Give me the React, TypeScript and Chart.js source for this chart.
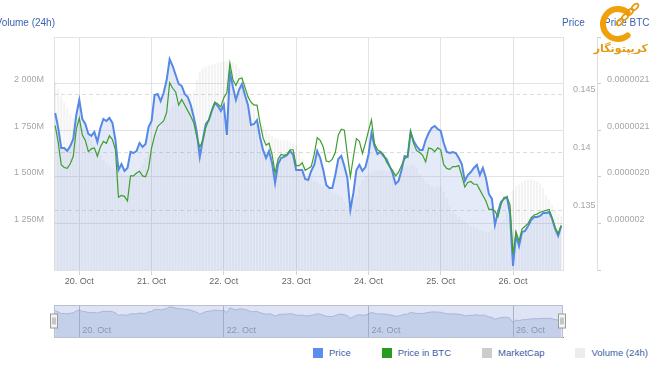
import React, { useEffect, useRef } from 'react';
import { Chart, registerables } from 'chart.js';

Chart.register(...registerables);

const FONT = '"Liberation Sans", Arial, Helvetica, sans-serif';

// hours counted from 19 Oct 00:00; first hourly point is 19 Oct 16:00
const startHour = 16;
const xMin = 15.6;
const xMax = 184.6;

const price = [
  0.14345, 0.14216, 0.14043, 0.14043, 0.14017, 0.1406, 0.14121, 0.14328, 0.14457, 0.14293,
  0.1425, 0.14164, 0.14147, 0.14181, 0.14095, 0.14216, 0.14293, 0.14276, 0.14302, 0.14259,
  0.14112, 0.13853, 0.13905, 0.13845, 0.13871, 0.14009, 0.14, 0.14017, 0.14086, 0.14052,
  0.14078, 0.14224, 0.14276, 0.145, 0.14509, 0.14448, 0.14517, 0.14629, 0.1481, 0.1475,
  0.14672, 0.14595, 0.14578, 0.14509, 0.14483, 0.14414, 0.1431, 0.14181, 0.13966, 0.14112,
  0.1425, 0.14284, 0.14362, 0.14431, 0.14405, 0.14362, 0.14414, 0.14155, 0.14698, 0.14569,
  0.14457, 0.14543, 0.14595, 0.145, 0.14414, 0.14241, 0.1425, 0.14284, 0.14138, 0.14026,
  0.13957, 0.14017, 0.13914, 0.13741, 0.13905, 0.13957, 0.13966, 0.13983, 0.14017, 0.13983,
  0.13853, 0.13853, 0.13853, 0.13776, 0.13767, 0.13845, 0.13897, 0.14017, 0.13957, 0.13853,
  0.13724, 0.13698, 0.13698, 0.1381, 0.13948, 0.13974, 0.13888, 0.13785, 0.13509, 0.13655,
  0.13853, 0.13897, 0.13845, 0.13879, 0.13983, 0.14172, 0.1406, 0.13991, 0.14009, 0.13974,
  0.13948, 0.13888, 0.13828, 0.13733, 0.13759, 0.13853, 0.13974, 0.13966, 0.14181, 0.14103,
  0.1406, 0.14026, 0.14026, 0.14112, 0.14172, 0.14216, 0.14233, 0.14207, 0.1419, 0.14086,
  0.14009, 0.14, 0.14009, 0.14, 0.13957, 0.13905, 0.13759, 0.1381, 0.13836, 0.13871,
  0.13897, 0.1381, 0.13871, 0.13785, 0.13647, 0.13604, 0.13379, 0.13491, 0.13578, 0.13604,
  0.13621, 0.13474, 0.13026, 0.13293, 0.13198, 0.13319, 0.13328, 0.13371, 0.13422, 0.13448,
  0.13448, 0.13457, 0.13483, 0.13483, 0.13491, 0.13431, 0.13345, 0.13285, 0.13371,
];

// price in BTC, in millionths of a BTC
const priceBtcMicro = [
  2.105, 2.087, 2.063, 2.06, 2.059, 2.064, 2.072, 2.101, 2.113, 2.095,
  2.089, 2.077, 2.08, 2.081, 2.072, 2.082, 2.088, 2.086, 2.094, 2.09,
  2.079, 2.028, 2.03, 2.029, 2.024, 2.051, 2.051, 2.054, 2.056, 2.051,
  2.05, 2.059, 2.081, 2.094, 2.104, 2.107, 2.11, 2.119, 2.151, 2.145,
  2.141, 2.127, 2.133, 2.127, 2.121, 2.115, 2.108, 2.093, 2.082, 2.089,
  2.103, 2.111, 2.122, 2.13, 2.128, 2.125, 2.135, 2.14, 2.172, 2.154,
  2.148, 2.155, 2.156, 2.146, 2.136, 2.13, 2.127, 2.127, 2.108, 2.092,
  2.084, 2.086, 2.074, 2.054, 2.069, 2.074, 2.073, 2.074, 2.079, 2.079,
  2.062, 2.062, 2.065, 2.057, 2.059, 2.061, 2.074, 2.092, 2.089, 2.082,
  2.067, 2.066, 2.069, 2.076, 2.095, 2.101, 2.1, 2.074, 2.05, 2.071,
  2.091, 2.088, 2.075, 2.086, 2.099, 2.111, 2.086, 2.079, 2.077, 2.074,
  2.066, 2.061, 2.057, 2.051, 2.055, 2.062, 2.069, 2.072, 2.099, 2.086,
  2.078, 2.076, 2.073, 2.066, 2.081, 2.08, 2.077, 2.081, 2.079, 2.063,
  2.059, 2.058, 2.061, 2.061, 2.062, 2.051, 2.039, 2.044, 2.045, 2.042,
  2.042, 2.036, 2.03, 2.024, 2.015, 2.015, 2.013, 2.007, 2.02, 2.028,
  2.028, 2.02, 1.967, 1.991, 1.981, 1.994, 1.997, 2.0, 2.006, 2.009,
  2.01, 2.012, 2.013, 2.014, 2.015, 2.006, 1.996, 1.989, 1.998,
];

// market cap, billions of USD
const marketCapB = [
  21.02, 20.83, 20.57, 20.57, 20.53, 20.6, 20.69, 20.99, 21.18, 20.94,
  20.88, 20.75, 20.73, 20.78, 20.65, 20.83, 20.94, 20.91, 20.95, 20.89,
  20.67, 20.29, 20.37, 20.28, 20.32, 20.52, 20.51, 20.53, 20.64, 20.59,
  20.62, 20.84, 20.91, 21.24, 21.26, 21.17, 21.27, 21.43, 21.7, 21.61,
  21.49, 21.38, 21.36, 21.26, 21.22, 21.12, 20.96, 20.78, 20.46, 20.67,
  20.88, 20.93, 21.04, 21.14, 21.1, 21.04, 21.12, 20.74, 21.53, 21.34,
  21.18, 21.31, 21.38, 21.24, 21.12, 20.86, 20.88, 20.93, 20.71, 20.55,
  20.45, 20.53, 20.38, 20.13, 20.37, 20.45, 20.46, 20.49, 20.53, 20.49,
  20.29, 20.29, 20.29, 20.18, 20.17, 20.28, 20.36, 20.53, 20.45, 20.29,
  20.11, 20.07, 20.07, 20.23, 20.43, 20.47, 20.35, 20.2, 19.79, 20.0,
  20.29, 20.36, 20.28, 20.33, 20.49, 20.76, 20.6, 20.5, 20.52, 20.47,
  20.43, 20.35, 20.26, 20.12, 20.16, 20.29, 20.47, 20.46, 20.78, 20.66,
  20.6, 20.55, 20.55, 20.67, 20.76, 20.83, 20.85, 20.81, 20.79, 20.64,
  20.52, 20.51, 20.52, 20.51, 20.45, 20.37, 20.16, 20.23, 20.27, 20.32,
  20.36, 20.23, 20.32, 20.2, 19.99, 19.93, 19.6, 19.76, 19.89, 19.93,
  19.95, 19.74, 19.08, 19.47, 19.34, 19.51, 19.53, 19.59, 19.66, 19.7,
  19.7, 19.71, 19.75, 19.75, 19.76, 19.68, 19.55, 19.46, 19.59,
];

// 24h volume, millions of USD
const volumeM = [
  2006, 1974, 1931, 1899, 1867, 1835, 1814, 1798, 1782, 1760,
  1739, 1717, 1696, 1669, 1642, 1616, 1589, 1573, 1557, 1546,
  1535, 1525, 1519, 1514, 1509, 1509, 1514, 1525, 1546, 1573,
  1600, 1632, 1664, 1696, 1728, 1760, 1792, 1824, 1856, 1878,
  1894, 1905, 1910, 1915, 1926, 1942, 1964, 2017, 2060, 2081,
  2092, 2097, 2103, 2108, 2113, 2113, 2119, 2119, 2113, 2113,
  2103, 2081, 2044, 2006, 1964, 1910, 1867, 1830, 1803, 1776,
  1749, 1728, 1717, 1707, 1701, 1696, 1696, 1696, 1690, 1680,
  1664, 1642, 1600, 1557, 1525, 1498, 1482, 1471, 1460, 1450,
  1439, 1434, 1423, 1412, 1401, 1391, 1364, 1343, 1343, 1364,
  1396, 1450, 1482, 1503, 1514, 1525, 1530, 1535, 1535, 1535,
  1530, 1530, 1535, 1541, 1546, 1546, 1551, 1557, 1562, 1562,
  1546, 1514, 1493, 1476, 1460, 1450, 1444, 1450, 1450, 1418,
  1385, 1348, 1321, 1300, 1284, 1268, 1257, 1246, 1235, 1230,
  1225, 1214, 1209, 1203, 1203, 1214, 1235, 1252, 1257, 1268,
  1310, 1375, 1428, 1450, 1460, 1471, 1482, 1487, 1487, 1482,
  1476, 1466, 1439, 1401, 1375, 1348, 1321, 1300, 1289,
];

const dayTickHours = [24, 48, 72, 96, 120, 144, 168];
const dayTickLabels = ['20. Oct', '21. Oct', '22. Oct', '23. Oct', '24. Oct', '25. Oct', '26. Oct'];
const navTickHours = [24, 72, 120, 168];
const navTickLabels = ['20. Oct', '22. Oct', '24. Oct', '26. Oct'];
const volumeTickValues = [1000, 1250, 1500, 1750, 2000, 2250];
const volumeTickLabels = ['', '1 250M', '1 500M', '1 750M', '2 000M', ''];
const priceTickValues = [0.135, 0.14, 0.145];
const priceTickLabels = ['0.135', '0.14', '0.145'];
const btcTickValues = [1.95, 2.0, 2.05, 2.1, 2.15, 2.2];
const btcTickLabels = ['', '0.000002', '0.00000205', '0.0000021', '0.00000215', ''];
const legendNames = ['Price', 'Price in BTC', 'MarketCap', 'Volume (24h)'];
const legendColors = ['#5b8def', '#2b9b1f', '#cccccc', '#ececec'];

function toPoints(values: number[]) {
  return values.map((v, i) => ({ x: startHour + i, y: v }));
}

function lookup(values: number[], labels: string[], v: number) {
  const k = values.findIndex((t) => Math.abs(t - v) < 1e-7);
  return k >= 0 ? labels[k] : '';
}

const tickFont = { family: FONT, size: 9 };

const navPlugin = {
  id: 'navDecor',
  beforeDraw(chart: any) {
    const { ctx, chartArea: a } = chart;
    ctx.save();
    ctx.fillStyle = 'rgba(200,210,236,0.6)';
    ctx.fillRect(a.left, a.top, a.right - a.left, a.bottom - a.top);
    ctx.restore();
  },
  afterDraw(chart: any) {
    const { ctx, chartArea: a, scales } = chart;
    ctx.save();
    ctx.strokeStyle = '#b9c0d2';
    ctx.lineWidth = 1;
    ctx.strokeRect(a.left + 0.5, a.top + 0.5, a.right - a.left - 1, a.bottom - a.top);
    ctx.fillStyle = '#8e95a8';
    ctx.font = `9px ${FONT}`;
    ctx.textBaseline = 'middle';
    ctx.textAlign = 'left';
    navTickHours.forEach((h, k) => {
      const px = scales.x.getPixelForValue(h);
      ctx.fillText(navTickLabels[k], px + 3, a.bottom - 6);
    });
    const mid = (a.top + a.bottom) / 2;
    [a.left, a.right - 1].forEach((x) => {
      ctx.fillStyle = '#f4f4f4';
      ctx.strokeStyle = '#999';
      ctx.fillRect(x - 3.5, mid - 7, 7, 14);
      ctx.strokeRect(x - 3.5, mid - 7, 7, 14);
      ctx.beginPath();
      ctx.moveTo(x - 1, mid - 3.5);
      ctx.lineTo(x - 1, mid + 3.5);
      ctx.moveTo(x + 1, mid - 3.5);
      ctx.lineTo(x + 1, mid + 3.5);
      ctx.stroke();
    });
    ctx.restore();
  },
};

export default function App() {
  const mainRef = useRef<HTMLCanvasElement>(null);
  const navRef = useRef<HTMLCanvasElement>(null);

  useEffect(() => {
    const main = new Chart(mainRef.current as HTMLCanvasElement, {
      type: 'line',
      data: {
        datasets: [
          {
            type: 'line',
            label: legendNames[0],
            data: toPoints(price),
            yAxisID: 'yPrice',
            borderColor: '#5688e6',
            borderWidth: 2,
            pointRadius: 0,
            fill: false,
            order: 1,
          },
          {
            type: 'line',
            label: legendNames[1],
            data: toPoints(priceBtcMicro),
            yAxisID: 'yBtc',
            borderColor: '#3e9e30',
            borderWidth: 1.2,
            pointRadius: 0,
            fill: false,
            order: 0,
          },
          {
            type: 'line',
            label: legendNames[2],
            data: toPoints(marketCapB),
            yAxisID: 'yMc',
            borderColor: 'rgba(0,0,0,0)',
            borderWidth: 0,
            backgroundColor: 'rgba(150,172,228,0.26)',
            pointRadius: 0,
            fill: 'start',
            order: 2,
          },
          {
            type: 'bar',
            label: legendNames[3],
            data: toPoints(volumeM),
            yAxisID: 'yVol',
            backgroundColor: 'rgba(120,120,120,0.085)',
            barPercentage: 0.7,
            categoryPercentage: 1,
            order: 3,
          },
        ] as any,
      },
      options: {
        animation: false,
        responsive: false,
        maintainAspectRatio: false,
        events: [],
        layout: { padding: { top: 37, left: 0, right: 0, bottom: 0 } },
        plugins: { legend: { display: false }, tooltip: { enabled: false } },
        scales: {
          x: {
            type: 'linear',
            position: 'bottom',
            min: xMin,
            max: xMax,
            offset: false,
            afterBuildTicks: (s: any) => {
              s.ticks = dayTickHours.map((v) => ({ value: v }));
            },
            ticks: {
              autoSkip: false,
              maxRotation: 0,
              padding: 1,
              color: '#666',
              font: tickFont,
              callback: (v: any) => lookup(dayTickHours, dayTickLabels, Number(v)),
            },
            grid: {
              offset: false,
              color: '#e3e3e3',
              drawTicks: true,
              tickLength: 5,
              tickColor: '#d4d4d4',
            },
            border: { display: false },
            afterFit: (s: any) => {
              s.height = 22;
            },
          },
          yVol: {
            type: 'linear',
            position: 'left',
            min: 1000,
            max: 2250,
            afterBuildTicks: (s: any) => {
              s.ticks = volumeTickValues.map((v) => ({ value: v }));
            },
            ticks: {
              color: '#a6a6a6',
              font: tickFont,
              padding: 10,
              labelOffset: -4,
              callback: (v: any) => lookup(volumeTickValues, volumeTickLabels, Number(v)),
            },
            grid: { color: '#e3e3e3', drawTicks: false },
            border: { display: true, color: '#e3e3e3' },
            afterFit: (s: any) => {
              s.width = 54;
            },
          },
          yPrice: {
            type: 'linear',
            position: 'right',
            weight: 0,
            min: 0.12991,
            max: 0.15,
            afterBuildTicks: (s: any) => {
              s.ticks = priceTickValues.map((v) => ({ value: v }));
            },
            ticks: {
              color: '#a6a6a6',
              font: tickFont,
              padding: 10,
              labelOffset: -5,
              callback: (v: any) => lookup(priceTickValues, priceTickLabels, Number(v)),
            },
            grid: { color: '#dcdcdc', drawTicks: false },
            border: { display: true, color: '#e0e0e0', dash: [4, 3] },
            afterFit: (s: any) => {
              s.width = 34;
            },
          },
          yBtc: {
            type: 'linear',
            position: 'right',
            weight: 1,
            min: 1.95,
            max: 2.2,
            afterBuildTicks: (s: any) => {
              s.ticks = btcTickValues.map((v) => ({ value: v }));
            },
            ticks: {
              color: '#a6a6a6',
              font: tickFont,
              padding: 6,
              labelOffset: -4,
              callback: (v: any) => lookup(btcTickValues, btcTickLabels, Number(v)),
            },
            grid: { drawOnChartArea: false, drawTicks: true, tickLength: 4, color: '#cccccc' },
            border: { display: true, color: '#dddddd' },
            afterFit: (s: any) => {
              s.width = 53;
            },
          },
          yMc: {
            type: 'linear',
            display: false,
            min: 19.032,
            max: 21.975,
          },
        } as any,
      },
    });

    const nav = new Chart(navRef.current as HTMLCanvasElement, {
      type: 'line',
      data: {
        datasets: [
          {
            data: toPoints(marketCapB),
            yAxisID: 'y',
            borderColor: 'rgba(120,140,195,0.55)',
            borderWidth: 0.8,
            backgroundColor: 'rgba(135,155,205,0.3)',
            fill: 'start',
            pointRadius: 0,
          },
        ],
      },
      options: {
        animation: false,
        responsive: false,
        maintainAspectRatio: false,
        events: [],
        layout: { padding: { top: 5, bottom: 5, left: 0, right: 0 } },
        plugins: { legend: { display: false }, tooltip: { enabled: false } },
        scales: {
          x: {
            type: 'linear',
            min: xMin,
            max: xMax,
            afterBuildTicks: (s: any) => {
              s.ticks = navTickHours.map((v) => ({ value: v }));
            },
            ticks: { display: false },
            grid: { offset: false, color: '#aab3cc', drawTicks: false },
            border: { display: true, color: '#5d9a5d' },
            afterFit: (s: any) => {
              s.height = 0;
            },
          },
          y: {
            type: 'linear',
            position: 'left',
            min: 16.6,
            max: 22,
            ticks: { display: false },
            grid: { display: false },
            border: { display: false },
            afterFit: (s: any) => {
              s.width = 54;
            },
          },
          y2: {
            type: 'linear',
            position: 'right',
            min: 0,
            max: 1,
            ticks: { display: false },
            grid: { display: false },
            border: { display: false },
            afterFit: (s: any) => {
              s.width = 87;
            },
          },
        } as any,
      },
      plugins: [navPlugin],
    });

    return () => {
      main.destroy();
      nav.destroy();
    };
  }, []);

  const titleStyle: React.CSSProperties = {
    position: 'absolute',
    top: 16,
    fontFamily: FONT,
    fontSize: 10,
    color: '#3b62b0',
    whiteSpace: 'nowrap',
    lineHeight: '14px',
  };

  return (
    <div
      style={{
        position: 'absolute',
        left: 0,
        top: 0,
        width: 650,
        height: 365,
        background: '#fff',
        overflow: 'hidden',
      }}
    >
      <canvas
        ref={mainRef}
        width={650}
        height={292}
        style={{ position: 'absolute', left: 0, top: 0, width: 650, height: 292 }}
      />
      <canvas
        ref={navRef}
        width={650}
        height={42}
        style={{ position: 'absolute', left: 0, top: 300, width: 650, height: 42 }}
      />
      <div style={{ ...titleStyle, right: 595, textAlign: 'right' }}>Volume (24h)</div>
      <div style={{ ...titleStyle, left: 562 }}>Price</div>
      <div style={{ ...titleStyle, left: 604 }}>Price BTC</div>
      <svg
        style={{ position: 'absolute', left: 598, top: 2 }}
        width={46}
        height={42}
        viewBox="0 0 46 42"
      >
        <path
          d="M 29.6 10.5 A 15 15 0 1 0 29.6 33.5"
          fill="none"
          stroke="#f0a00a"
          strokeWidth={6}
          strokeLinecap="round"
        />
        {[
          [37, 5],
          [32, 10],
          [27, 15],
          [22, 20],
        ].map(([cx, cy], k) => (
          <ellipse
            key={k}
            cx={cx}
            cy={cy}
            rx={4}
            ry={2.3}
            transform={`rotate(-45 ${cx} ${cy})`}
            fill="none"
            stroke="#e89a0c"
            strokeWidth={1.8}
          />
        ))}
      </svg>
      <div
        style={{
          position: 'absolute',
          left: 594,
          top: 42,
          width: 54,
          textAlign: 'center',
          direction: 'rtl',
          fontFamily: '"DejaVu Sans", sans-serif',
          fontWeight: 'bold',
          fontSize: 11,
          color: '#e39a10',
          lineHeight: '14px',
          whiteSpace: 'nowrap',
        }}
      >
        کریپتونگار
      </div>
      <div
        style={{
          position: 'absolute',
          right: 2,
          top: 346,
          display: 'flex',
          alignItems: 'center',
          fontFamily: FONT,
          fontSize: 9.5,
          color: '#3b5da6',
          lineHeight: '14px',
          whiteSpace: 'nowrap',
        }}
      >
        {legendNames.map((n, k) => (
          <div
            key={n}
            style={{ display: 'flex', alignItems: 'center', marginLeft: k ? 31 : 0 }}
          >
            <span
              style={{
                display: 'inline-block',
                width: 10,
                height: 10,
                background: legendColors[k],
                marginRight: 6,
              }}
            />
            <span>{n}</span>
          </div>
        ))}
      </div>
    </div>
  );
}
